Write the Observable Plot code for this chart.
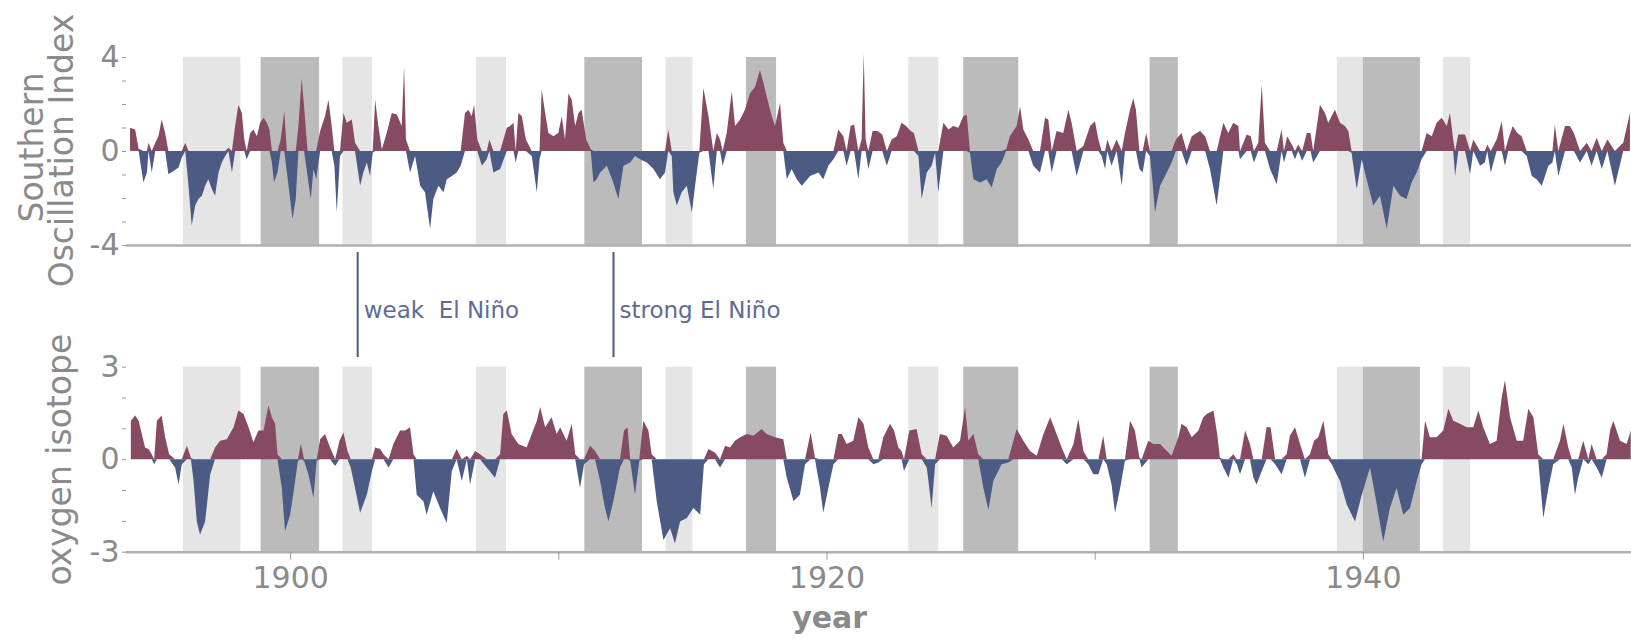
<!DOCTYPE html>
<html><head><meta charset="utf-8">
<script src="https://cdn.jsdelivr.net/npm/d3@7"></script>
<script src="https://cdn.jsdelivr.net/npm/@observablehq/plot@0.6"></script>
<style>
body{margin:0;background:#fff;}
#chart{position:relative;width:1631px;height:641px;overflow:hidden;background:#fff;}
</style>
</head><body><div id="chart"></div>
<script>
// ---- data ----
const soiYear = [1894.03,1894.22,1894.35,1894.53,1894.66,1894.72,1894.84,1894.97,1895.09,1895.21,1895.34,1895.46,1895.65,1895.84,1895.96,1896.09,1896.21,1896.33,1896.46,1896.58,1896.71,1896.83,1896.95,1897.08,1897.20,1897.33,1897.45,1897.58,1897.70,1897.83,1897.95,1898.07,1898.20,1898.29,1898.38,1898.51,1898.63,1898.76,1898.88,1899.01,1899.13,1899.23,1899.32,1899.40,1899.53,1899.65,1899.78,1899.88,1900.09,1900.21,1900.31,1900.43,1900.52,1900.65,1900.77,1900.87,1900.97,1901.12,1901.30,1901.43,1901.55,1901.65,1901.74,1901.86,1901.99,1902.11,1902.30,1902.42,1902.61,1902.73,1902.86,1902.98,1903.08,1903.17,1903.29,1903.42,1903.60,1903.79,1903.98,1904.16,1904.25,1904.32,1904.47,1904.66,1904.85,1905.03,1905.22,1905.34,1905.53,1905.72,1905.84,1906.03,1906.21,1906.36,1906.52,1906.65,1906.77,1906.86,1906.98,1907.15,1907.33,1907.43,1907.58,1907.83,1908.08,1908.20,1908.33,1908.41,1908.51,1908.64,1908.79,1909.01,1909.20,1909.30,1909.38,1909.51,1909.63,1909.82,1910.00,1910.13,1910.25,1910.38,1910.50,1910.63,1910.75,1910.87,1911.04,1911.21,1911.31,1911.43,1911.56,1911.81,1912.05,1912.24,1912.43,1912.68,1912.86,1913.05,1913.30,1913.55,1913.79,1913.98,1914.10,1914.23,1914.29,1914.42,1914.60,1914.79,1914.98,1915.10,1915.26,1915.41,1915.60,1915.78,1915.91,1916.03,1916.13,1916.28,1916.47,1916.59,1916.78,1916.96,1917.15,1917.34,1917.52,1917.65,1917.77,1917.96,1918.08,1918.27,1918.39,1918.52,1918.70,1918.89,1919.08,1919.39,1919.70,1919.88,1920.07,1920.26,1920.44,1920.63,1920.75,1920.90,1921.03,1921.19,1921.31,1921.39,1921.46,1921.56,1921.72,1921.90,1922.08,1922.25,1922.43,1922.62,1922.80,1922.97,1923.14,1923.26,1923.43,1923.55,1923.74,1923.92,1924.05,1924.17,1924.36,1924.55,1924.73,1924.92,1925.10,1925.23,1925.35,1925.48,1925.73,1925.97,1926.16,1926.35,1926.53,1926.70,1926.84,1927.09,1927.22,1927.34,1927.53,1927.71,1927.96,1928.15,1928.27,1928.40,1928.58,1928.83,1929.02,1929.14,1929.33,1929.58,1929.83,1930.01,1930.14,1930.26,1930.39,1930.47,1930.63,1930.82,1931.01,1931.13,1931.32,1931.44,1931.54,1931.67,1931.79,1931.92,1932.06,1932.15,1932.25,1932.44,1932.69,1932.87,1933.03,1933.24,1933.43,1933.62,1933.93,1934.12,1934.30,1934.55,1934.80,1934.98,1935.17,1935.36,1935.42,1935.67,1935.82,1935.94,1936.10,1936.23,1936.35,1936.54,1936.79,1936.97,1937.06,1937.18,1937.35,1937.47,1937.59,1937.74,1937.91,1938.05,1938.15,1938.40,1938.59,1938.71,1938.96,1939.15,1939.33,1939.46,1939.58,1939.77,1939.96,1940.14,1940.39,1940.64,1940.89,1941.14,1941.39,1941.63,1941.82,1942.01,1942.19,1942.38,1942.57,1942.75,1942.94,1943.13,1943.25,1943.37,1943.44,1943.56,1943.81,1944.00,1944.12,1944.37,1944.55,1944.64,1944.77,1944.99,1945.18,1945.30,1945.42,1945.59,1945.76,1945.92,1946.11,1946.30,1946.48,1946.67,1946.92,1947.07,1947.16,1947.29,1947.54,1947.72,1947.87,1948.10,1948.35,1948.53,1948.72,1948.91,1949.12,1949.40,1949.71,1949.96];
const soiValue = [0.99,0.92,0.1,-1.34,-0.92,0.35,-0.92,0.35,0.63,1.34,0.77,-0.99,-0.85,-0.70,-0.28,0.35,-1.48,-3.17,-2.32,-2.04,-1.90,-1.48,-1.20,-1.62,-1.90,-0.92,-0.49,-0.21,0.14,-0.92,1.06,1.97,1.62,0.49,-0.35,0.77,0.92,0.63,1.2,1.41,1.2,0.92,-0.49,-1.34,-0.92,0.49,1.69,-0.92,-2.89,-2.04,1.06,3.10,1.90,-1.06,-2.04,-0.77,-1.2,0.85,1.48,2.18,1.06,-0.63,-2.61,-0.21,1.62,1.2,1.34,0.35,-1.48,-0.92,-0.49,-1.06,-0.07,2.18,1.06,0.07,0.77,1.62,1.55,1.06,3.59,0.49,-0.92,-0.21,-1.48,-1.76,-3.31,-2.04,-1.48,-1.76,-1.2,-1.06,-0.92,-0.63,1.62,1.76,1.48,1.97,0.49,-0.63,-0.35,0.49,-0.92,-0.77,0.99,1.06,1.2,-0.49,1.62,1.48,0.49,-0.21,-1.76,-0.35,2.61,1.62,0.77,0.63,0.77,1.48,0.49,2.46,2.18,1.06,1.62,1.76,0.49,0.07,-1.34,-1.2,-0.92,-0.63,-1.34,-2.04,-0.63,-0.49,-0.21,-0.35,-0.49,-0.77,-1.2,-0.92,0.92,-0.21,-1.76,-2.32,-1.76,-1.48,-2.61,-1.48,-0.07,2.68,1.48,-1.62,0.77,0.49,-0.63,0.77,2.54,1.06,1.34,1.76,2.46,2.75,3.45,2.89,2.32,1.48,1.06,2.04,0.35,-1.2,-0.77,-1.2,-1.48,-1.06,-0.92,-1.2,-0.63,-0.35,0.92,0.63,-0.63,1.06,1.13,-1.2,0.49,4.15,0.49,-0.77,0.85,0.85,0.7,-0.63,0.49,0.63,1.2,1.06,0.85,0.77,-0.21,-2.04,-0.92,-0.63,-0.07,-1.76,1.2,0.92,1.06,0.99,1.48,1.55,-0.07,-1.2,-1.34,-1.2,-1.55,-0.77,-0.49,0.07,0.63,1.06,1.9,0.92,0.49,-0.63,-0.92,1.41,1.34,-0.92,0.85,0.77,1.76,1.2,-1.06,0.21,1.06,1.27,0.49,-0.21,-0.77,0.49,-0.63,0.49,-1.48,0.77,1.76,2.25,1.76,-0.77,-0.92,0.77,-0.21,-1.2,-2.61,-1.48,-0.92,-0.49,0.49,0.77,-0.63,0.63,0.85,0.63,-0.77,-2.32,1.2,0.77,1.2,1.06,-0.35,0.7,0.63,-0.49,0.35,2.82,0.35,-0.77,-1.41,0.92,-0.49,0.63,0.28,-0.35,0.28,-0.42,0.77,0.77,-0.49,1.97,1.62,1.2,1.76,1.2,1.06,0.85,-0.07,-1.62,-0.35,-1.2,-2.32,-1.9,-3.31,-1.48,-1.9,-2.04,-1.34,-0.92,-0.35,0.77,0.63,1.2,1.41,1.06,1.62,0.49,-1.06,0.7,0.7,-0.99,0.49,-0.63,-0.49,0.28,-0.92,0.49,1.27,-0.63,0.49,1.06,0.77,0.63,-0.21,-1.06,-1.2,-1.48,-0.63,-0.49,1.13,-1.06,1.06,1.06,0.77,-0.49,0.35,-0.63,0.56,-0.77,0.49,-1.48,0.35,1.62];

const isoYear = [1894.06,1894.22,1894.35,1894.47,1894.59,1894.72,1894.84,1894.93,1895.03,1895.21,1895.34,1895.49,1895.71,1895.84,1895.96,1896.15,1896.30,1896.40,1896.52,1896.64,1896.83,1897.02,1897.20,1897.39,1897.64,1897.89,1898.07,1898.26,1898.45,1898.63,1898.82,1899.01,1899.19,1899.32,1899.44,1899.53,1899.69,1899.81,1900.00,1900.15,1900.29,1900.40,1900.52,1900.68,1900.87,1900.99,1901.12,1901.30,1901.49,1901.68,1901.84,1901.99,1902.14,1902.26,1902.42,1902.61,1902.86,1903.05,1903.17,1903.36,1903.48,1903.67,1903.85,1904.10,1904.29,1904.47,1904.60,1904.72,1904.97,1905.09,1905.34,1905.59,1905.84,1906.03,1906.21,1906.40,1906.59,1906.71,1906.90,1907.08,1907.33,1907.64,1907.83,1907.95,1908.08,1908.26,1908.51,1908.82,1909.01,1909.20,1909.32,1909.51,1909.75,1909.94,1910.07,1910.31,1910.50,1910.63,1910.81,1910.96,1911.18,1911.37,1911.56,1911.74,1911.87,1912.05,1912.30,1912.45,1912.58,1912.68,1912.86,1913.02,1913.17,1913.36,1913.48,1913.67,1913.92,1914.17,1914.35,1914.54,1914.79,1915.04,1915.29,1915.43,1915.60,1915.84,1916.03,1916.22,1916.40,1916.59,1916.78,1917.03,1917.27,1917.58,1917.77,1918.08,1918.39,1918.52,1918.77,1919.01,1919.20,1919.41,1919.57,1919.76,1919.88,1920.07,1920.26,1920.44,1920.57,1920.75,1921.00,1921.19,1921.38,1921.56,1921.75,1921.93,1922.12,1922.37,1922.52,1922.68,1922.80,1922.89,1923.09,1923.36,1923.55,1923.74,1923.92,1924.05,1924.23,1924.48,1924.73,1924.98,1925.17,1925.29,1925.48,1925.66,1925.85,1926.04,1926.22,1926.53,1926.78,1926.97,1927.09,1927.34,1927.59,1927.84,1928.09,1928.34,1928.58,1928.77,1928.96,1929.21,1929.39,1929.58,1929.76,1929.95,1930.14,1930.32,1930.45,1930.63,1930.76,1930.95,1931.13,1931.32,1931.50,1931.67,1931.75,1932.00,1932.19,1932.44,1932.69,1932.87,1933.12,1933.24,1933.43,1933.62,1933.87,1934.05,1934.18,1934.43,1934.57,1934.67,1934.80,1934.99,1935.17,1935.30,1935.42,1935.61,1935.79,1935.92,1936.04,1936.23,1936.41,1936.56,1936.73,1936.97,1937.16,1937.28,1937.47,1937.66,1937.84,1938.03,1938.18,1938.34,1938.53,1938.71,1938.84,1938.96,1939.15,1939.40,1939.71,1939.96,1940.27,1940.52,1940.76,1941.01,1941.26,1941.51,1941.76,1942.01,1942.19,1942.32,1942.50,1942.75,1943.00,1943.19,1943.37,1943.62,1943.87,1944.12,1944.31,1944.49,1944.74,1944.99,1945.18,1945.30,1945.49,1945.74,1945.98,1946.17,1946.36,1946.54,1946.73,1946.92,1947.10,1947.35,1947.48,1947.66,1947.79,1947.91,1948.03,1948.22,1948.41,1948.53,1948.72,1948.91,1949.09,1949.22,1949.34,1949.59,1949.84,1949.99];
const isoValue = [1.25,1.42,1.25,0.82,0.38,0.33,0.16,-0.16,1.25,1.42,0.71,0.16,-0.27,-0.82,-0.16,0.44,0.05,-0.71,-2.02,-2.45,-2.02,-0.49,0.38,0.6,0.65,1.04,1.58,1.47,1.04,0.55,0.93,0.93,1.74,1.36,1.15,0.16,-0.93,-2.34,-1.8,-0.93,-0.05,0.49,-0.05,-0.49,-1.25,-0.05,0.65,0.82,0.38,-0.22,0.6,0.87,0.27,-0.27,-0.93,-1.74,-1.15,-0.38,0.38,0.33,0.16,-0.27,0.49,0.93,0.93,1.04,0.16,-1.15,-1.36,-1.8,-1.04,-1.58,-2.07,-0.38,0.33,-0.71,0.11,-0.82,0.27,0.16,-0.27,-0.6,0.16,1.47,1.58,0.82,0.49,0.38,0.82,1.25,1.69,1.04,1.36,0.82,1.04,0.6,1.15,0.16,-0.93,-0.16,0.44,0.27,-0.71,-1.58,-2.02,-1.36,-0.27,0.93,1.04,-0.05,-1.15,-0.05,1.25,0.93,0.16,-1.36,-2.62,-2.24,-2.73,-2.02,-1.91,-1.58,-1.8,-0.16,0.33,0.22,-0.27,0.44,0.38,0.6,0.71,0.82,0.76,0.98,0.82,0.71,0.65,-0.6,-1.36,-1.15,-0.16,0.87,0.05,-0.93,-1.74,-0.93,-0.16,0.82,0.82,0.49,0.6,1.36,1.15,0.38,-0.16,-0.11,0.71,1.15,0.93,0.38,0.27,-0.38,0.93,0.98,0.16,-0.27,-1.58,-0.16,0.82,0.76,0.38,0.6,1.69,0.6,0.82,0.16,-0.93,-1.64,-0.71,-0.16,-0.11,0.6,0.98,0.6,0.27,0.11,0.82,1.36,0.82,0.38,-0.16,0.49,1.31,0.27,-0.16,-0.49,-0.49,0.76,-0.16,-0.82,-1.74,-0.93,-0.05,1.25,0.93,0.05,-0.27,0.6,0.49,0.49,0.27,0.11,0.71,1.15,1.04,0.71,0.93,1.36,1.47,1.58,0.82,0.05,-0.27,-0.6,0.16,-0.16,-0.49,0.93,0.49,-0.6,-0.82,-0.38,1.04,1.04,-0.16,-0.49,0.16,0.76,1.04,0.49,-0.6,0.16,0.6,0.71,1.25,0.16,-0.16,-0.38,-0.71,-1.47,-2.02,-1.15,-0.27,-1.47,-2.67,-1.58,-0.93,-1.8,-1.58,-0.71,-0.16,1.25,0.71,0.71,0.93,1.64,1.25,1.15,1.04,1.04,1.58,1.04,0.49,0.6,2.02,2.56,1.36,0.6,0.6,1.64,1.36,0.16,-1.91,-0.93,-0.16,0.6,1.15,0.38,-0.27,-1.15,-0.6,0.6,-0.16,0.49,-0.27,-0.6,0.16,0.93,1.25,0.6,0.49,0.93];

// El Niño episodes (shaded bands)
const ensoStart = [1896.0,1898.9,1901.95,1906.93,1910.97,1914.0,1917.0,1923.05,1925.1,1932.05,1939.03,1940.0,1942.99];
const ensoEnd   = [1898.15,1901.08,1903.05,1908.05,1913.12,1915.0,1918.12,1924.17,1927.15,1933.1,1940.0,1942.13,1944.0];
const ensoType  = ["weak","strong","weak","weak","strong","weak","strong","weak","strong","strong","weak","strong","weak"];

const annoYear  = [1902.5, 1912.04];
const annoLabel = ["weak\u00a0 El Niño", "strong El Niño"];

const soiTicks = [-4,-3,-2,-1,0,1,2,3,4];
const soiTickLabels = [-4,0,4];
const isoTicks = [-3,-2,-1,0,1,2,3];
const isoTickLabels = [-3,0,3];
const yearTicks = [1900,1910,1920,1930,1940,1950];
const yearTickLabels = [1900,1920,1940];

// ---- build ----
const RED = "#864b62", BLUE = "#4b5b84";
const LIGHT = "#e5e5e5", DARK = "#bbbbbb";
const GRAY_TXT = "#8a8a8a", AXIS = "#b0b0b0";
const FONT = "DejaVu Sans";
const soi = soiYear.map((year, i) => ({year, v: soiValue[i]}));
const iso = isoYear.map((year, i) => ({year, v: isoValue[i]}));
const enso = ensoStart.map((s, i) => ({s, e: ensoEnd[i], t: ensoType[i]}));
const anno = annoYear.map((year, i) => ({year, label: annoLabel[i]}));
const XDOM = [1893.88, 1950];

function bands(y1, y2) {
  return Plot.rect(enso, {x1: "s", x2: "e", y1, y2, fill: d => d.t === "strong" ? DARK : LIGHT});
}
function areas(data) {
  return [
    Plot.areaY(data, {x: "year", y: d => Math.max(0, d.v), fill: RED, curve: "linear"}),
    Plot.areaY(data, {x: "year", y: d => Math.min(0, d.v), fill: BLUE, curve: "linear"})
  ];
}

const topPlot = Plot.plot({
  width: 1631, height: 360,
  marginLeft: 126, marginRight: 0, marginTop: 57, marginBottom: 115,
  style: {position: "absolute", left: "0px", top: "0px", background: "transparent", overflow: "visible", fontFamily: FONT},
  x: {domain: XDOM, axis: null},
  y: {domain: [-4, 4], axis: null},
  marks: [
    bands(-4, 4),
    ...areas(soi),
    Plot.ruleY([-4], {stroke: AXIS, strokeWidth: 2.5}),
    Plot.axisY({ticks: soiTicks, tickFormat: d => soiTickLabels.includes(d) ? String(d) : "", tickSize: 4, tickPadding: 3, fontSize: 30, fill: GRAY_TXT, stroke: "#999", label: null}),
    Plot.ruleX(anno, {x: "year", y1: -4.3, y2: -8.77, stroke: BLUE, strokeWidth: 2}),
    Plot.text(anno, {x: "year", y: -7.1, text: "label", textAnchor: "start", lineAnchor: "bottom", dx: 6, fontSize: 23, fill: "#5d6b95"}),
    Plot.text(["Southern"], {frameAnchor: "left", rotate: -90, dx: -84, dy: -4, textAnchor: "middle", lineAnchor: "bottom", fontSize: 33, fill: GRAY_TXT}),
    Plot.text(["Oscillation Index"], {frameAnchor: "left", rotate: -90, dx: -54, dy: -1, textAnchor: "middle", lineAnchor: "bottom", fontSize: 33, fill: GRAY_TXT})
  ]
});

const bottomPlot = Plot.plot({
  width: 1631, height: 321,
  marginLeft: 126, marginRight: 0, marginTop: 46.7, marginBottom: 89.3,
  style: {position: "absolute", left: "0px", top: "320px", background: "transparent", overflow: "visible", fontFamily: FONT},
  x: {domain: XDOM, axis: null},
  y: {domain: [-3, 3], axis: null},
  marks: [
    bands(-3, 3),
    ...areas(iso),
    Plot.ruleY([-3], {stroke: AXIS, strokeWidth: 2.5}),
    Plot.axisY({ticks: isoTicks, tickFormat: d => isoTickLabels.includes(d) ? String(d) : "", tickSize: 4, tickPadding: 3, fontSize: 30, fill: GRAY_TXT, stroke: "#999", label: null}),
    Plot.axisX({ticks: yearTicks, tickFormat: d => yearTickLabels.includes(d) ? String(d) : "", tickSize: 8, tickPadding: 6, fontSize: 30, fill: GRAY_TXT, stroke: "#999", label: null}),
    Plot.text(["year"], {x: 1920.1, frameAnchor: "bottom", dy: 76, lineAnchor: "bottom", fontSize: 30, fontWeight: "bold", fill: GRAY_TXT}),
    Plot.text(["oxygen isotope"], {frameAnchor: "left", rotate: -90, dx: -56, textAnchor: "middle", lineAnchor: "bottom", fontSize: 33, fill: GRAY_TXT})
  ]
});

const chart = document.getElementById("chart");
chart.appendChild(topPlot);
chart.appendChild(bottomPlot);
</script>
</body></html>
